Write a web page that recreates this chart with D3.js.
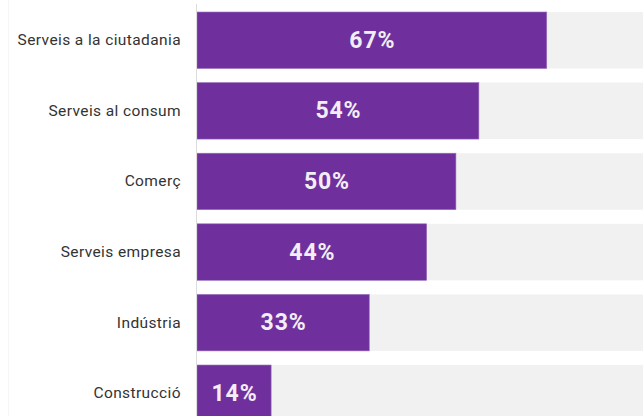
<!DOCTYPE html>
<html><head><meta charset="utf-8">
<script src="https://cdn.jsdelivr.net/npm/d3@7"></script>
<style>
html,body{margin:0;padding:0;background:#fff;overflow:hidden}
svg{display:block}
</style></head>
<body>
<script>
const categories = ["Serveis a la ciutadania","Serveis al consum","Comerç","Serveis empresa","Indústria","Construcció"];
const values = [67, 54, 49.6, 44, 33, 14.2];
const valueLabels = ["67%","54%","50%","44%","33%","14%"];

const W = 643, H = 416;
const svg = d3.select("body").append("svg").attr("width", W).attr("height", H);

const x = d3.scaleLinear().domain([0, 100]).range([197, 719]);
const y = d3.scaleBand().domain(categories).range([12, 421.5]).paddingInner(0.2).paddingOuter(0);

// faint left guide
svg.append("line").attr("x1", 8.5).attr("x2", 8.5).attr("y1", 0).attr("y2", H)
  .attr("stroke", "#f6f6f6").attr("stroke-width", 1);

// background bars
svg.selectAll("rect.bg").data(categories).join("rect").attr("class","bg")
  .attr("x", x(0)).attr("y", d => y(d)).attr("width", x(100) - x(0)).attr("height", y.bandwidth())
  .attr("fill", "#f1f1f1");

// value bars
svg.selectAll("rect.bar").data(values).join("rect").attr("class","bar")
  .attr("x", x(0)).attr("y", (d,i) => y(categories[i]))
  .attr("width", d => x(d) - x(0)).attr("height", y.bandwidth())
  .attr("fill", "#6f309e").attr("stroke", "#9a72bd").attr("stroke-width", 0.6);

// axis line
svg.append("line").attr("x1", 196.5).attr("x2", 196.5).attr("y1", 4).attr("y2", H)
  .attr("stroke", "#dcdcdc").attr("stroke-width", 1);

// category labels
svg.selectAll("text.cat").data(categories).join("text").attr("class","cat")
  .attr("x", 181).attr("y", d => y(d) + y.bandwidth()/2)
  .attr("text-anchor", "end").attr("dominant-baseline", "central")
  .attr("font-family", "Roboto, 'Noto Sans', sans-serif").attr("font-size", 15.5)
  .attr("letter-spacing", "0.4px")
  .attr("fill", "#333").text(d => d);

// value labels
svg.selectAll("text.val").data(values).join("text").attr("class","val")
  .attr("x", d => (x(0) + x(d)) / 2).attr("dx", 0.5)
  .attr("y", (d,i) => y(categories[i]) + y.bandwidth()/2)
  .attr("text-anchor", "middle").attr("dominant-baseline", "central")
  .attr("font-family", "Roboto, 'Noto Sans', sans-serif").attr("font-weight", 700)
  .attr("font-size", 23).attr("letter-spacing", "0.9px").attr("fill", "#f2eef5")
  .text((d,i) => valueLabels[i]);
</script>
</body></html>
